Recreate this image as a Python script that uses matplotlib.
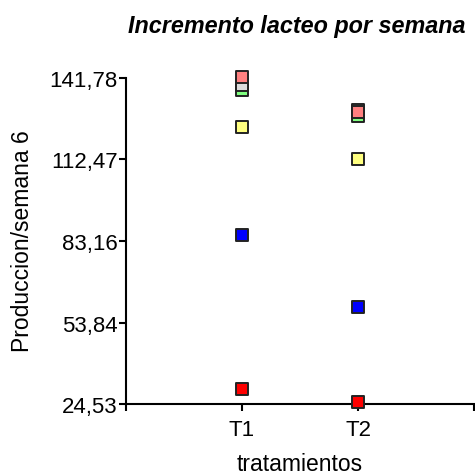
import matplotlib
matplotlib.use("Agg")
import matplotlib.pyplot as plt

plt.rcParams["font.family"] = ["Liberation Sans", "DejaVu Sans"]

# data
treatments = ["T1", "T2"]
series_colors = ["#ff0000", "#0000ff", "#ffff80", "#80ff80", "#dcdcdc", "#ff8080"]
t1_values = [30.0, 85.4, 124.3, 137.5, 139.4, 142.2]
t2_values = [25.1, 59.4, 112.8, 128.1, 130.1, 129.5]
y_ticks = [24.53, 53.84, 83.16, 112.47, 141.78]
y_ticklabels = ["24,53", "53,84", "83,16", "112,47", "141,78"]

fig = plt.figure(figsize=(4.75, 4.77), dpi=100)
ax = fig.add_axes([126 / 475, 1 - 405 / 477, 348 / 475, 326 / 477])

xpos = [1, 2]
for i, col in enumerate(series_colors):
    ax.scatter(xpos, [t1_values[i], t2_values[i]], marker="s", s=72, c=col,
               edgecolors="#222222", linewidths=1.4, zorder=3, clip_on=False)

ax.set_xlim(0, 3)
ax.set_ylim(y_ticks[0], y_ticks[-1])
ax.set_xticks([0, 1, 2, 3])
ax.set_xticklabels(["", treatments[0], treatments[1], ""])
ax.set_yticks(y_ticks)
ax.set_yticklabels(y_ticklabels)

for s in ["top", "right"]:
    ax.spines[s].set_visible(False)
for s in ["left", "bottom"]:
    ax.spines[s].set_linewidth(1.5)
ax.tick_params(axis="both", length=5, width=1.5, labelsize=16, pad=1)
ax.tick_params(axis="x", pad=6)

fig.text(300 / 475, 1 - 465 / 477, "tratamientos", fontsize=16.5,
         ha="center", va="center")
fig.text(23 / 475, 1 - 241 / 477, "Produccion/semana 6", fontsize=16.5,
         rotation=90, ha="center", va="center")
fig.text(297 / 475, 1 - 27 / 477, "Incremento lacteo por semana", fontsize=16.8,
         fontweight="bold", fontstyle="italic", ha="center", va="center")

fig.savefig("out.png", dpi=100)
